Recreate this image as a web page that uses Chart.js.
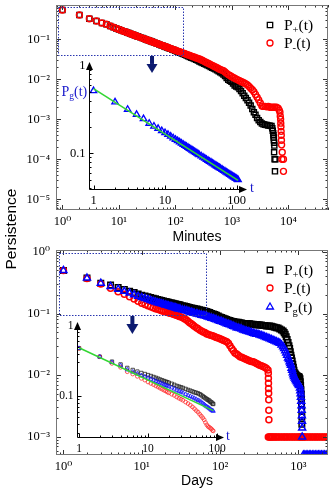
<!DOCTYPE html>
<html><head><meta charset="utf-8">
<script src="https://cdn.jsdelivr.net/npm/chart.js@4/dist/chart.umd.min.js"></script>
<style>
html,body{margin:0;padding:0;background:#fff}
#wrap{position:relative;width:335px;height:492px;overflow:hidden;background:#fff}
#wrap canvas{position:absolute;left:0;top:0}
</style></head><body>
<div id="wrap">
<canvas id="cTop" width="335" height="492"></canvas>
<canvas id="cTopIn" width="335" height="492"></canvas>
<canvas id="cBot" width="335" height="492"></canvas>
<canvas id="cBotIn" width="335" height="492"></canvas>
</div>
<script>
// ================= DATA =================
// --- upper panel: minutes ---
const minutesT = [1,2,3,4,5,6,7,8,9,10,11,12,13,14,15,16,17,18,19,20,21,22,24,26,28,30,32,34,36,38,40,43,46,49,52,56,60,64,68,72,77,82,88,94,100,107,114,122,130,139,148,158,168,180,192,205,219,234,250,267,285,304,325,347,370,395,422,450,480,512,547,584,623,665,710,758,809,864,922,984,1050,1121,1197,1278,1364,1456,1554,1659,1771,1891,2018,2154,2300,2455,2621,2798,2987,3188,3404,3633,3879,4140,4420,4718,5037];
const minutesMinus = [0.54,0.405,0.327,0.287,0.256,0.237,0.215,0.2,0.187,0.176,0.168,0.16,0.154,0.148,0.143,0.138,0.1337,0.1297,0.1262,0.1229,0.1198,0.1169,0.1117,0.1072,0.1031,0.0995,0.0962,0.0932,0.0905,0.088,0.0857,0.0825,0.0797,0.0771,0.0747,0.0719,0.0694,0.0671,0.065,0.0631,0.061,0.059,0.0569,0.055,0.0532,0.0514,0.0497,0.048,0.0465,0.0449,0.0435,0.042,0.0407,0.0393,0.038,0.0368,0.0355,0.0343,0.0332,0.0321,0.0308,0.0294,0.0281,0.0268,0.0256,0.0244,0.0233,0.0223,0.0213,0.0203,0.0194,0.0183,0.0176,0.017,0.0163,0.0152,0.0141,0.0131,0.0124,0.0118,0.0111,0.0106,0.0101,0.00968,0.00924,0.00883,0.00844,0.00806,0.0077,0.00722,0.00659,0.00601,0.00548,0.00491,0.00419,0.00358,0.00305,0.00255,0.00214,0.0021,0.0021,0.00205,0.0021,0.002,0.002];
const minutesPlus = [0.54,0.405,0.327,0.287,0.256,0.237,0.215,0.2,0.187,0.176,0.168,0.16,0.154,0.148,0.143,0.138,0.1337,0.1297,0.1262,0.1229,0.1198,0.1169,0.1117,0.1072,0.1031,0.0995,0.0962,0.0932,0.0905,0.088,0.0857,0.0825,0.0795,0.0768,0.0743,0.0714,0.0688,0.0664,0.0642,0.0622,0.06,0.0579,0.0557,0.0537,0.0518,0.0498,0.048,0.0461,0.0444,0.0426,0.041,0.0393,0.0378,0.0362,0.0348,0.0334,0.032,0.0306,0.0293,0.028,0.0268,0.0256,0.0245,0.0234,0.0224,0.0214,0.0204,0.0195,0.0186,0.0177,0.0168,0.0159,0.015,0.0141,0.0131,0.0121,0.0108,0.0097,0.0092,0.0087,0.0079,0.007,0.0066,0.0063,0.0057,0.0051,0.0045,0.0039,0.0034,0.003,0.0026,0.0022,0.0018,0.0015,0.0013,0.00108,0.00095,0.00085,0.00078,0.00075,0.00073,0.00072,0.0007,0.00069,0.00068];
const minutesPlusTailT = [5200,5300,5400,5450,5500,5550,5600,5650,5600,5700,5900,5800];
const minutesPlusTail = [0.0006,0.00052,0.00045,0.0004,0.00035,0.0003,0.00026,0.00022,0.00015,0.0001,0.0001,0.00005];
const minutesMinusTailT = [5400,5760,6150,6600,6900,7100,7200,7300,7350,7400,7450,7500,7550,7600,7800,7700,8200,8200];
const minutesMinusTail = [0.002,0.002,0.002,0.0019,0.0017,0.0015,0.0012,0.001,0.0008,0.00065,0.0005,0.0004,0.0003,0.00023,0.00015,0.0001,0.0001,0.00005];
// upper inset
const minutesInsetT = [1,2,3,4,5,6,7,8,9,10,11,12,13,14,15,16,17,18,19,20,21,22,23,24,25,26,27,28,29,30,32,34,36,38,40,42,44,46,48,50,52,54,56,58,60,63,66,69,72,75,78,81,84,87,90,93,96,99,102,105];
const minutesInsetPg = [0.52,0.386,0.318,0.278,0.248,0.22,0.204,0.192,0.181,0.172,0.1637,0.1564,0.1499,0.1441,0.139,0.1343,0.1301,0.1262,0.1227,0.1194,0.1164,0.1135,0.1109,0.1085,0.1061,0.1039,0.1019,0.0999,0.0981,0.0964,0.0932,0.0902,0.0876,0.0851,0.0828,0.0807,0.0787,0.0769,0.0752,0.0736,0.0721,0.0707,0.0693,0.0681,0.0669,0.0652,0.0636,0.0621,0.0607,0.0594,0.0582,0.0571,0.056,0.0549,0.054,0.053,0.0522,0.0513,0.0505,0.0498];
const minutesFitT = [1,105];
const minutesFit = [0.55,0.049];

// --- lower panel: days ---
const daysT = [1,2,3,4,5,6,7,8,9,10,11,12,13,14,15,16,17,18,19,20,21,22,23,24,25,26,27,28,29,30,31,33,35,37,39,41,43,45,47,50,52,55,58,61,64,67,70,74,78,82,86,90,95,100,105,110,116,122,128,134,141,148,155,163,171,180,189,198,208,218,229,240,252,265,278,292,306,321,337,354,372,390,410];
const daysPlus = [0.5,0.375,0.31,0.29,0.265,0.245,0.23,0.218,0.207,0.198,0.192,0.186,0.181,0.177,0.173,0.169,0.166,0.163,0.16,0.157,0.155,0.152,0.15,0.148,0.146,0.144,0.143,0.141,0.14,0.138,0.137,0.134,0.132,0.13,0.128,0.125,0.123,0.122,0.12,0.118,0.117,0.115,0.113,0.112,0.11,0.108,0.106,0.104,0.1,0.098,0.096,0.094,0.091,0.088,0.086,0.084,0.082,0.08,0.078,0.077,0.075,0.074,0.073,0.072,0.072,0.071,0.07,0.069,0.069,0.068,0.068,0.068,0.067,0.067,0.066,0.066,0.066,0.065,0.065,0.064,0.064,0.063,0.063];
const daysPg = [0.5,0.375,0.31,0.275,0.248,0.229,0.214,0.202,0.191,0.182,0.175,0.169,0.163,0.158,0.154,0.15,0.147,0.144,0.141,0.138,0.136,0.133,0.131,0.129,0.127,0.125,0.124,0.122,0.12,0.119,0.118,0.115,0.113,0.111,0.109,0.106,0.105,0.103,0.101,0.099,0.098,0.096,0.094,0.093,0.092,0.09,0.088,0.086,0.084,0.083,0.081,0.079,0.077,0.075,0.074,0.072,0.07,0.068,0.067,0.066,0.064,0.062,0.061,0.059,0.058,0.057,0.056,0.054,0.053,0.052,0.051,0.05,0.049,0.048,0.047,0.046,0.046,0.045,0.044,0.043,0.042,0.041,0.04];
const daysMinus = [0.5,0.37,0.3,0.256,0.226,0.205,0.187,0.172,0.158,0.146,0.14,0.134,0.129,0.124,0.12,0.117,0.114,0.111,0.109,0.107,0.105,0.103,0.101,0.1,0.098,0.097,0.095,0.094,0.092,0.09,0.089,0.086,0.082,0.079,0.075,0.071,0.068,0.065,0.062,0.059,0.057,0.054,0.052,0.05,0.049,0.047,0.046,0.045,0.044,0.043,0.042,0.041,0.04,0.039,0.038,0.037,0.036,0.035,0.033,0.03,0.027,0.025,0.023,0.022,0.021,0.02,0.0195,0.019,0.0185,0.018,0.0175,0.017,0.0167,0.0165,0.016,0.0155,0.015,0.0145,0.0142,0.0138,0.0135,0.013,0.0122];
const daysPlusTailT = [430,452,475,500,525,552,580,610,640,660,680,700,720,740,760,775,790,805,820,835,850,865,880,900,920,940,960,980,1000,1015,1030,1050,1060,1070,1080,1090,1095,1100,1105,1110,1110,1110];
const daysPlusTail = [0.063,0.062,0.061,0.06,0.059,0.058,0.056,0.054,0.052,0.049,0.046,0.042,0.038,0.034,0.03,0.027,0.024,0.021,0.019,0.017,0.015,0.0135,0.012,0.011,0.0105,0.0101,0.0098,0.0096,0.0095,0.0094,0.0093,0.0088,0.0078,0.0068,0.0058,0.0049,0.0041,0.0034,0.0027,0.0021,0.0016,0.001];
const daysPgTailT = [430,452,475,500,525,552,580,610,640,660,680,700,720,740,760,775,790,805,820,835,850,865,880,900,920,940,960,980,1000,1015,1030,1050,1060,1070,1080,1090,1100,1105,1110,1115,1120,1120];
const daysPgTail = [0.039,0.038,0.037,0.036,0.035,0.034,0.033,0.031,0.029,0.027,0.025,0.023,0.021,0.019,0.018,0.0165,0.0155,0.0145,0.013,0.012,0.011,0.0102,0.0095,0.009,0.0085,0.0081,0.0078,0.0075,0.0072,0.007,0.0068,0.0062,0.0056,0.005,0.0044,0.0038,0.0032,0.0027,0.0022,0.0018,0.0014,0.001];
const daysPgLowT = [1160,1210,1260,1320,1380,1440,1510,1580,1650,1730,1810,1890,1980,2070,2170,2270,2370];
const daysPgLow = [0.00051,0.00051,0.00051,0.00051,0.00051,0.00051,0.00051,0.00051,0.00051,0.00051,0.00051,0.00051,0.00051,0.00051,0.00051,0.00051,0.00051];
const daysMinusTailT = [414,415,416,417,418,419,420,421];
const daysMinusTail = [0.0108,0.0089,0.0074,0.0061,0.0051,0.004,0.0027,0.0019];
const daysMinusFloorT = [414,425,440,455,470,490,510,530,555,580,610,640,670,700,735,770,810,850,890,935,980,1030,1080,1130,1190,1250,1310,1380,1450,1520,1600,1680,1760,1850,1950,2050,2150,2260,2380];
const daysMinusFloor = [0.001,0.001,0.001,0.001,0.001,0.001,0.001,0.001,0.001,0.001,0.001,0.001,0.001,0.001,0.001,0.001,0.001,0.001,0.001,0.001,0.001,0.001,0.001,0.001,0.001,0.001,0.001,0.001,0.001,0.001,0.001,0.001,0.001,0.001,0.001,0.001,0.001,0.001,0.001];
// lower inset
const daysInsetT = [1,2,3,4,5,6,7,8,9,10,11,12,13,14,15,16,17,18,19,20,22,24,26,28,30,32,35,38,41,44,47,50,53,56,59,62,65,68,71,74,77,80,83,86,88];
const daysInsetPlus = [0.475,0.36,0.307,0.28,0.25,0.234,0.222,0.212,0.205,0.198,0.192,0.186,0.181,0.176,0.171,0.167,0.163,0.16,0.157,0.154,0.149,0.144,0.139,0.136,0.133,0.13,0.126,0.122,0.119,0.116,0.113,0.111,0.109,0.106,0.103,0.099,0.096,0.093,0.09,0.088,0.086,0.083,0.081,0.078,0.077];
const daysInsetMinus = [0.475,0.36,0.29,0.255,0.221,0.205,0.19,0.178,0.168,0.158,0.151,0.145,0.139,0.134,0.129,0.125,0.121,0.118,0.114,0.111,0.106,0.102,0.097,0.093,0.09,0.087,0.082,0.078,0.074,0.07,0.066,0.062,0.059,0.055,0.052,0.049,0.046,0.042,0.039,0.037,0.036,0.035,0.034,0.0325,0.032];
const daysInsetPg = [0.475,0.36,0.3,0.27,0.236,0.22,0.207,0.196,0.188,0.181,0.174,0.168,0.162,0.157,0.153,0.149,0.145,0.142,0.139,0.136,0.131,0.126,0.121,0.117,0.114,0.111,0.106,0.102,0.099,0.096,0.093,0.09,0.087,0.085,0.082,0.079,0.076,0.073,0.071,0.069,0.067,0.065,0.063,0.062,0.061];
const daysFitT = [1,88];
const daysFit = [0.485,0.062];

// --- tick labels ---
const minutesXLabels = ['10⁰','10¹','10²','10³','10⁴'];      // exponents 0..4
const minutesYLabels = ['10⁻⁵','10⁻⁴','10⁻³','10⁻²','10⁻¹']; // exponents -5..-1
const daysXLabels = ['10⁰','10¹','10²','10³'];                // 0..3
const daysYLabels = ['10⁻³','10⁻²','10⁻¹','10⁰'];             // -3..0
const insetXLabels = ['1','10','100'];                        // 0..2
const insetYLabels = ['0.1','1'];                             // -1..0

// ================= helpers =================
const SERIF = "'Liberation Serif','Times New Roman','DejaVu Serif',serif";
const SANS = "'Liberation Sans',Arial,'DejaVu Sans',sans-serif";
const pts = (t, v) => t.map((x, i) => ({x, y: v[i]}));
const byExp = (labels, e0) => v => labels[Math.round(Math.log10(v)) - e0] || '';

function logTickList(min, max) {
  const out = [];
  const e0 = Math.floor(Math.log10(min)), e1 = Math.ceil(Math.log10(max));
  for (let e = e0; e <= e1; e++) for (let m = 1; m < 10; m++) {
    const v = m * Math.pow(10, e);
    if (v >= min * 0.9999 && v <= max * 1.0001) out.push({value: v, major: m === 1});
  }
  return out;
}
function axis(horizontal, min, max, labelFn, fontSize, pad, fitSize, tickMin) {
  return {
    type: 'logarithmic', position: horizontal ? 'bottom' : 'left', min, max,
    afterBuildTicks: s => { s.ticks = logTickList(Math.max(s.min, tickMin || 0), s.max); },
    afterFit: s => {
      if (horizontal) s.height = fitSize; else s.width = fitSize;
      s.paddingLeft = s.paddingRight = s.paddingTop = s.paddingBottom = 0;
    },
    grid: {display: false, drawTicks: false}, border: {display: false},
    ticks: {autoSkip: false, maxRotation: 0, minRotation: 0, padding: pad, color: '#000',
      font: {family: SERIF, size: fontSize},
      callback: (v, i, t) => (t[i] && t[i].major) ? labelFn(v) : ''}
  };
}
function ser(t, v, style, color, r, bw, order) {
  return {data: pts(t, v), showLine: false, pointStyle: style, pointRadius: r, pointHoverRadius: r,
    pointBorderColor: color, borderColor: color, pointBackgroundColor: 'rgba(0,0,0,0)',
    backgroundColor: 'rgba(0,0,0,0)', pointBorderWidth: bw, order, clip: 0};
}
function fitLine(t, v) {
  return {data: pts(t, v), showLine: true, pointRadius: 0, borderColor: '#33d633', borderWidth: 1.6, order: 0, clip: 0};
}
function marker(ctx, style, x, y, r, color, lw) {
  ctx.save(); ctx.strokeStyle = color; ctx.lineWidth = lw; ctx.beginPath();
  if (style === 'rect') { const s = r * Math.SQRT1_2; ctx.rect(x - s, y - s, 2 * s, 2 * s); }
  else if (style === 'circle') { ctx.arc(x, y, r, 0, Math.PI * 2); }
  else { ctx.moveTo(x, y - r); ctx.lineTo(x + 0.866 * r, y + 0.5 * r); ctx.lineTo(x - 0.866 * r, y + 0.5 * r); ctx.closePath(); }
  ctx.stroke(); ctx.restore();
}
function subText(ctx, parts, x, y, size, color) {
  ctx.save(); ctx.fillStyle = color; ctx.textBaseline = 'alphabetic'; ctx.textAlign = 'left';
  ctx.font = size + 'px ' + SERIF; ctx.fillText(parts[0], x, y); let w = ctx.measureText(parts[0]).width;
  ctx.font = (size * 0.68) + 'px ' + SERIF; ctx.fillText(parts[1], x + w, y + size * 0.22); w += ctx.measureText(parts[1]).width;
  ctx.font = size + 'px ' + SERIF; ctx.fillText(parts[2], x + w, y);
  ctx.restore();
}

const deco = {
  id: 'deco',
  afterDraw(chart, args, o) {
    const ctx = chart.ctx, a = chart.chartArea, xs = chart.scales.x, ys = chart.scales.y;
    ctx.save();
    if (o.frame) {
      ctx.lineWidth = 1; ctx.strokeStyle = '#333'; ctx.beginPath();
      for (const t of xs.ticks) {
        const p = Math.round(xs.getPixelForValue(t.value)) + 0.5, L = t.major ? 5 : 2.5;
        ctx.moveTo(p, a.bottom); ctx.lineTo(p, a.bottom - L);
        ctx.moveTo(p, a.top); ctx.lineTo(p, a.top + L);
      }
      for (const t of ys.ticks) {
        const p = Math.round(ys.getPixelForValue(t.value)) + 0.5, L = t.major ? 5 : 2.5;
        ctx.moveTo(a.left, p); ctx.lineTo(a.left + L, p);
        ctx.moveTo(a.right, p); ctx.lineTo(a.right - L, p);
      }
      ctx.stroke();
      ctx.strokeStyle = '#777';
      ctx.strokeRect(a.left + 0.5, a.top + 0.5, a.right - a.left - 1, a.bottom - a.top - 1);
    }
    if (o.inset) {
      const L = a.left + 0.5, B = a.bottom + 0.5;
      ctx.strokeStyle = '#000'; ctx.lineWidth = 1; ctx.beginPath();
      ctx.moveTo(L, B); ctx.lineTo(L, a.top + 6); ctx.moveTo(L, B); ctx.lineTo(a.right - 6, B);
      for (const t of xs.ticks) {
        const p = Math.round(xs.getPixelForValue(t.value)) + 0.5, l = t.major ? 4 : 2;
        ctx.moveTo(p, B); ctx.lineTo(p, B - l);
      }
      for (const t of ys.ticks) {
        const p = Math.round(ys.getPixelForValue(t.value)) + 0.5, l = t.major ? 4 : 2;
        if (p > a.top + 7) { ctx.moveTo(L, p); ctx.lineTo(L + l, p); }
      }
      ctx.stroke();
      ctx.fillStyle = '#000';
      ctx.beginPath(); ctx.moveTo(L, a.top); ctx.lineTo(L - 3.5, a.top + 8); ctx.lineTo(L + 3.5, a.top + 8); ctx.closePath(); ctx.fill();
      ctx.beginPath(); ctx.moveTo(a.right, B); ctx.lineTo(a.right - 8, B - 3.5); ctx.lineTo(a.right - 8, B + 3.5); ctx.closePath(); ctx.fill();
    }
    if (o.box) {
      const x0 = Math.round(xs.getPixelForValue(o.box.x[0])), x1 = Math.round(xs.getPixelForValue(o.box.x[1]));
      const y0 = Math.round(ys.getPixelForValue(o.box.y[0])), y1 = Math.round(ys.getPixelForValue(o.box.y[1]));
      ctx.setLineDash([1.5, 1.5]); ctx.strokeStyle = '#2a36b0'; ctx.lineWidth = 1;
      ctx.strokeRect(x0 + 0.5, y0 + 0.5, x1 - x0, y1 - y0); ctx.setLineDash([]);
    }
    if (o.arrow) {
      const x = xs.getPixelForValue(o.arrow.x), y = ys.getPixelForValue(o.arrow.y) + 1;
      ctx.fillStyle = '#0c1a70';
      ctx.fillRect(x - o.arrow.sw / 2, y, o.arrow.sw, o.arrow.shaft);
      ctx.beginPath(); ctx.moveTo(x - o.arrow.hw / 2, y + o.arrow.shaft); ctx.lineTo(x + o.arrow.hw / 2, y + o.arrow.shaft);
      ctx.lineTo(x, y + o.arrow.shaft + o.arrow.head); ctx.closePath(); ctx.fill();
    }
    if (o.legend) {
      o.legend.items.forEach((it, i) => {
        const y = o.legend.y[i];
        marker(ctx, it.style, o.legend.x, y, it.r, it.color, 1.3);
        subText(ctx, it.parts, o.legend.tx, y + 5, o.legend.size, '#000');
      });
    }
    (o.subs || []).forEach(s => subText(ctx, s.parts, s.x, s.y, s.size, s.color));
    (o.texts || []).forEach(s => {
      ctx.save(); ctx.fillStyle = s.color || '#000'; ctx.font = s.font;
      ctx.textAlign = 'center'; ctx.textBaseline = 'middle';
      ctx.translate(s.x, s.y); if (s.rot) ctx.rotate(s.rot); ctx.fillText(s.text, 0, 0); ctx.restore();
    });
    ctx.restore();
  }
};
function base(pad, scales, decoOpts) {
  return {responsive: false, animation: false, devicePixelRatio: 1, events: [],
    layout: {padding: pad}, scales,
    plugins: {legend: {display: false}, tooltip: {enabled: false}, deco: decoOpts}};
}

// ================= charts =================
new Chart(document.getElementById('cTop'), {
  type: 'scatter', plugins: [deco],
  data: {datasets: [
    ser(minutesT, minutesPlus, 'rect', '#000', 3.6, 1.4, 2),
    ser(minutesPlusTailT, minutesPlusTail, 'rect', '#000', 3.6, 1.4, 2),
    ser(minutesT, minutesMinus, 'circle', '#ff0000', 3, 1.4, 1),
    ser(minutesMinusTailT, minutesMinusTail, 'circle', '#ff0000', 3, 1.4, 1)
  ]},
  options: base({left: 0, top: 5, right: 7, bottom: 246}, {
    x: axis(true, 0.77, 50400, byExp(minutesXLabels, 0), 12.5, 4, 36),
    y: axis(false, 5.4e-6, 0.72, byExp(minutesYLabels, -5), 12.5, 6, 56)
  }, {
    frame: true,
    box: {x: [0.84, 134], y: [0.65, 0.0406]},
    arrow: {x: 38.6, y: 0.0406, shaft: 8, head: 9, sw: 4, hw: 11},
    legend: {x: 270, tx: 284, y: [25, 43], size: 15.5, items: [
      {style: 'rect', r: 3.8, color: '#000', parts: ['P', '+', '(t)']},
      {style: 'circle', r: 3, color: '#ff0000', parts: ['P', '-', '(t)']}
    ]},
    texts: [
      {text: 'Minutes', x: 197, y: 237, font: '14px ' + SANS},
      {text: 'Persistence', x: 12, y: 229, font: '15.5px ' + SANS, rot: -Math.PI / 2}
    ]
  })
});

new Chart(document.getElementById('cTopIn'), {
  type: 'scatter', plugins: [deco],
  data: {datasets: [
    ser(minutesInsetT, minutesInsetPg, 'triangle', '#0000ff', 3.7, 1.3, 1),
    fitLine(minutesFitT, minutesFit)
  ]},
  options: base({left: 0, top: 62, right: 88, bottom: 283}, {
    x: axis(true, 0.865, 140, byExp(insetXLabels, 0), 12.5, 4, 20, 1),
    y: axis(false, 0.039, 1.11, byExp(insetYLabels, -1), 12.5, 3.5, 89)
  }, {
    inset: true,
    subs: [{parts: ['P', 'g', '(t)'], x: 61.5, y: 96, size: 14, color: '#1a1acc'}],
    texts: [{text: 't', x: 252, y: 188, font: '14px ' + SERIF, color: '#1a1acc'}]
  })
});

new Chart(document.getElementById('cBot'), {
  type: 'scatter', plugins: [deco],
  data: {datasets: [
    ser(daysT, daysPlus, 'rect', '#000', 3.9, 1.5, 3),
    ser(daysPlusTailT, daysPlusTail, 'rect', '#000', 3.9, 1.5, 3),
    ser(daysT, daysMinus, 'circle', '#ff0000', 3, 1.5, 2),
    ser(daysMinusTailT, daysMinusTail, 'circle', '#ff0000', 3, 1.5, 2),
    ser(daysMinusFloorT, daysMinusFloor, 'circle', '#ff0000', 3, 1.5, 2),
    ser(daysT, daysPg, 'triangle', '#0000ff', 4, 1.5, 1),
    ser(daysPgTailT, daysPgTail, 'triangle', '#0000ff', 4, 1.5, 1),
    ser(daysPgLowT, daysPgLow, 'triangle', '#0000ff', 4, 1.5, 1)
  ]},
  options: base({left: 0, top: 250, right: 7, bottom: 1}, {
    x: axis(true, 0.804, 2395, byExp(daysXLabels, 0), 12.5, 4, 36),
    y: axis(false, 5.09e-4, 1.07, byExp(daysYLabels, -3), 12.5, 6, 56)
  }, {
    frame: true,
    box: {x: [0.88, 65.7], y: [0.946, 0.0946]},
    arrow: {x: 7.6, y: 0.0946, shaft: 8, head: 10, sw: 4, hw: 12},
    legend: {x: 270, tx: 284, y: [270, 288, 307], size: 15.5, items: [
      {style: 'rect', r: 3.9, color: '#000', parts: ['P', '+', '(t)']},
      {style: 'circle', r: 3, color: '#ff0000', parts: ['P', '-', '(t)']},
      {style: 'triangle', r: 4, color: '#0000ff', parts: ['P', 'g', '(t)']}
    ]},
    texts: [{text: 'Days', x: 197, y: 481, font: '14px ' + SANS}]
  })
});

new Chart(document.getElementById('cBotIn'), {
  type: 'scatter', plugins: [deco],
  data: {datasets: [
    ser(daysInsetT, daysInsetPlus, 'rect', '#222', 2.4, 0.8, 3),
    ser(daysInsetT, daysInsetMinus, 'circle', '#ff3030', 1.9, 0.8, 2),
    ser(daysInsetT, daysInsetPg, 'triangle', '#1010ff', 2.4, 0.8, 1),
    fitLine(daysFitT, daysFit)
  ]},
  options: base({left: 0, top: 322, right: 111, bottom: 35}, {
    x: axis(true, 0.935, 126, byExp(insetXLabels, 0), 11.5, 5, 20, 1),
    y: axis(false, 0.0262, 1.121, byExp(insetYLabels, -1), 11.5, 3.5, 77)
  }, {
    inset: true,
    texts: [{text: 't', x: 228, y: 436, font: '14px ' + SERIF, color: '#1a1acc'}]
  })
});
</script>
</body></html>
